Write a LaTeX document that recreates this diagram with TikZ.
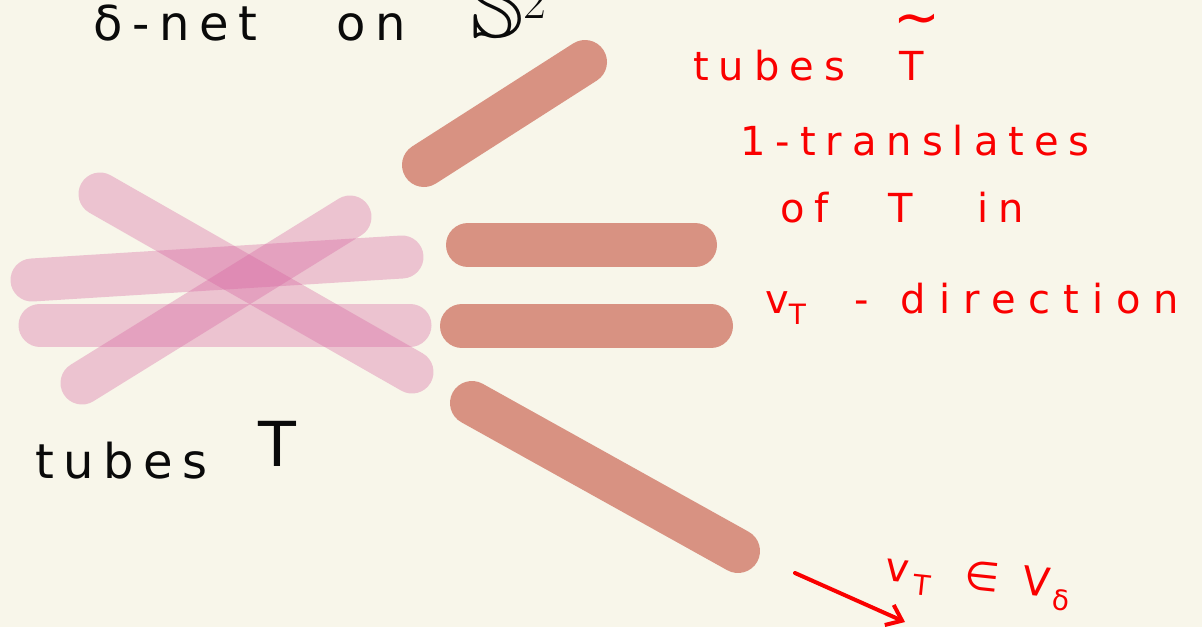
\documentclass[tikz,border=0pt]{standalone}
\usepackage{amssymb}
\usepackage{graphicx}
\usepackage{fontspec}
\setmainfont{DejaVu Sans}
\newfontfamily\redhand[LetterSpace=25]{DejaVu Sans}
\newfontfamily\blackhand[LetterSpace=20]{DejaVu Sans}
\usetikzlibrary{arrows.meta}
\definecolor{paper}{RGB}{248,246,234}
\definecolor{tubepink}{RGB}{214,100,160}
\definecolor{tubeclay}{RGB}{216,146,130}
\definecolor{ink}{RGB}{10,10,10}
\definecolor{redink}{RGB}{250,0,0}
\tikzset{
  pinktube/.style={draw=tubepink, draw opacity=0.35, line width=43pt, line cap=round},
  claytube/.style={draw=tubeclay, line width=44pt, line cap=round},
  blacklabel/.style={text=ink, anchor=base west, inner sep=0pt, font=\blackhand\fontsize{48}{56}\selectfont},
  redlabel/.style={text=redink, anchor=base west, inner sep=0pt, font=\redhand\fontsize{40}{48}\selectfont},
}
\begin{document}
\begin{tikzpicture}[x=1pt,y=-1pt]
  \useasboundingbox (0,0) rectangle (1202,627);
  \clip (0,0) rectangle (1202,627);
  \fill[paper] (0,0) rectangle (1202,627);

  % original tubes T, crossing one another
  \draw[pinktube] (100,194) -- (412,372);
  \draw[pinktube] (82,383) -- (350,217);
  \draw[pinktube] (32,280) -- (402,257);
  \draw[pinktube] (40,325) -- (410,325);

  % translated tubes
  \draw[claytube] (424,165) -- (585,62);
  \draw[claytube] (468,245) -- (695,245);
  \draw[claytube] (462,326) -- (711,326);
  \draw[claytube] (472,403) -- (738,551);

  % black captions
  \node[blacklabel] (net) at (93,40) {δ-net\hspace{1.65em}on};
  \node[blacklabel] (sphere) at (470,37) {\scalebox{2}{$\mathbb{S}^{2}$}};
  \node[blacklabel] (tubesT) at (35,478) {tubes\hspace{1.05em}\raisebox{12pt}{\fontsize{62}{70}\selectfont T}};

  % red captions
  \node[redlabel] (tt) at (693,80) {tubes\hspace{1.35em}T};
  \node[text=redink, inner sep=0pt, font=\fontsize{56}{60}\selectfont] (tilde) at (917,25) {∼};
  \node[redlabel] (l2) at (740,155) {1-translates};
  \node[redlabel] (l3) at (780,222) {of\hspace{1.5em}T\hspace{1.6em}in};
  \node[redlabel] (l4) at (765,313) {v\textsubscript{T}\hspace{1.2em}-\hspace{0.8em}\addfontfeatures{LetterSpace=32}direction};
  \node[redlabel, rotate=-6] (vt) at (884,580) {v\hspace{0.15em}\textsubscript{T}\hspace{0.8em}∈\hspace{0.6em}V\hspace{0.1em}\textsubscript{δ}};

  % direction arrow
  \coordinate (arrA) at (795,573);
  \coordinate (arrB) at (905,622);
  \draw[redink, line width=4pt, line cap=round, -{Straight Barb[length=14pt,width=22pt]}] (arrA) -- (arrB);
\end{tikzpicture}
\end{document}
